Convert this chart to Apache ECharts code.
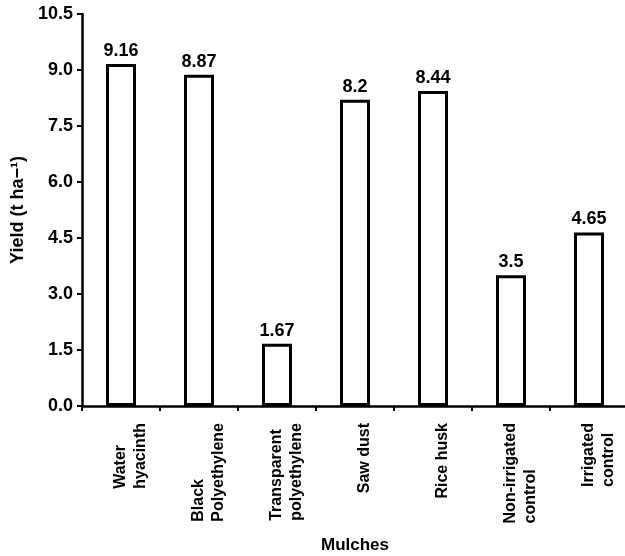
<!DOCTYPE html>
<html><head><meta charset="utf-8">
<script src="https://cdn.jsdelivr.net/npm/echarts@6/dist/echarts.min.js"></script>
<style>html,body{margin:0;padding:0;background:#fff}#c{width:625px;height:556px}</style>
</head><body><div id="c"></div>
<script>
const categories = ["Water\nhyacinth","Black\nPolyethylene","Transparent\npolyethylene","Saw dust","Rice husk","Non-irrigated\ncontrol","Irrigated\ncontrol"];
const yieldValues = [9.16, 8.87, 1.67, 8.2, 8.44, 3.5, 4.65];
const yMin = 0, yMax = 10.5, yStep = 1.5;
const F = "'Liberation Sans', Arial, sans-serif";
const chart = echarts.init(document.getElementById('c'), null, {renderer:'canvas'});
chart.setOption({
  animation:false,
  backgroundColor:'#fff',
  grid:{left:82, top:14, width:546, height:392, containLabel:false, outerBoundsMode:'none'},
  xAxis:{
    type:'category', data:categories,
    name:'Mulches', nameLocation:'middle', nameGap:131,
    nameTextStyle:{fontFamily:F, fontWeight:'bold', fontSize:17, color:'#000'},
    axisLine:{lineStyle:{color:'#000', width:2.5}},
    axisTick:{show:true, length:5, lineStyle:{color:'#000', width:2}},
    axisLabel:{rotate:90, margin:17, fontFamily:F, fontWeight:'bold', fontSize:16, color:'#000', lineHeight:20, interval:0,
      padding:[20,0,0,0],
      formatter:v=>v.split('\n').map(s=>'{z|'+s+'}').join('\n'),
      rich:{z:{fontFamily:F, fontWeight:'bold', fontSize:16, color:'#000', lineHeight:20, width:'100%', align:'left'}}}
  },
  yAxis:{
    type:'value', min:yMin, max:yMax, interval:yStep,
    name:'Yield (t ha\u2212\u00b9)', nameLocation:'middle', nameGap:49, nameRotate:90,
    nameTextStyle:{fontFamily:F, fontWeight:'bold', fontSize:18, color:'#000'},
    axisLine:{show:true, lineStyle:{color:'#000', width:2.5}},
    axisTick:{show:true, length:5, lineStyle:{color:'#000', width:2}},
    splitLine:{show:false},
    axisLabel:{fontFamily:F, fontWeight:'bold', fontSize:18, color:'#000', margin:9,
      formatter:v=>v.toFixed(1)}
  },
  series:[{
    type:'bar', data:yieldValues, barWidth:30,
    itemStyle:{color:'#fff', borderColor:'#000', borderWidth:3},
    label:{show:true, position:'top', distance:4, fontFamily:F, fontWeight:'bold', fontSize:18, color:'#000',
      formatter:p=>String(p.value)}
  }]
});
</script></body></html>
